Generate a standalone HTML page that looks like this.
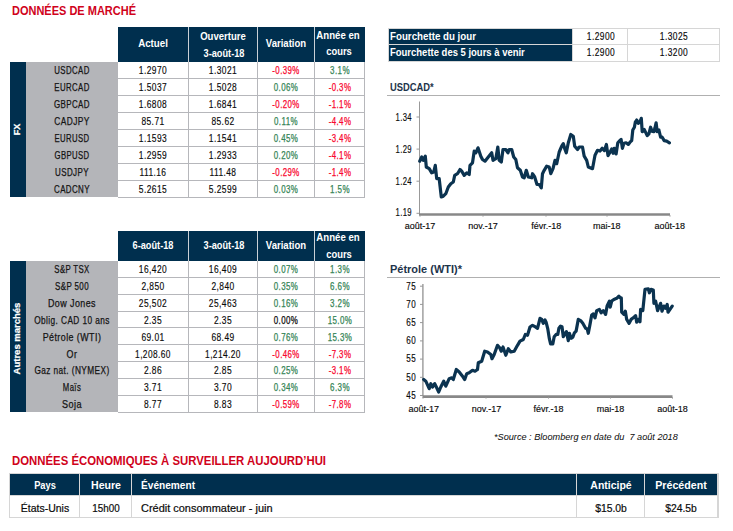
<!DOCTYPE html>
<html><head><meta charset="utf-8"><style>
html,body{margin:0;padding:0;background:#fff;}
body{width:733px;height:531px;position:relative;overflow:hidden;font-family:"Liberation Sans", sans-serif;}
</style></head><body>
<div style="position:absolute;left:12.00px;top:4.62px;width:400px;text-align:left;font-size:12.5px;line-height:12.5px;font-weight:bold;color:#d0021b;white-space:nowrap;transform:scaleX(0.8795);transform-origin:left center;">DONNÉES DE MARCHÉ</div>
<div style="position:absolute;left:12.00px;top:455.04px;width:400px;text-align:left;font-size:12px;line-height:12px;font-weight:bold;color:#d0021b;white-space:nowrap;transform:scaleX(0.9476);transform-origin:left center;">DONNÉES ÉCONOMIQUES À SURVEILLER AUJOURD’HUI</div>
<div style="position:absolute;left:118px;top:27px;width:247px;height:34.5px;background:#002f4e;"></div>
<div style="position:absolute;left:188px;top:27px;width:1px;height:34.5px;background:#c9d0d6;"></div>
<div style="position:absolute;left:257px;top:27px;width:1px;height:34.5px;background:#c9d0d6;"></div>
<div style="position:absolute;left:314px;top:27px;width:1px;height:34.5px;background:#c9d0d6;"></div>
<div style="position:absolute;left:10px;top:61.5px;width:16px;height:135.68px;background:#002f4e;"></div>
<div style="position:absolute;left:26px;top:61.5px;width:92px;height:135.68px;background:#b4b5b9;"></div>
<div style="position:absolute;left:118px;top:77.96px;width:247px;height:1px;background:#b6b7bb;"></div>
<div style="position:absolute;left:118px;top:94.92px;width:247px;height:1px;background:#b6b7bb;"></div>
<div style="position:absolute;left:118px;top:111.88px;width:247px;height:1px;background:#b6b7bb;"></div>
<div style="position:absolute;left:118px;top:128.84px;width:247px;height:1px;background:#b6b7bb;"></div>
<div style="position:absolute;left:118px;top:145.8px;width:247px;height:1px;background:#b6b7bb;"></div>
<div style="position:absolute;left:118px;top:162.76px;width:247px;height:1px;background:#b6b7bb;"></div>
<div style="position:absolute;left:118px;top:179.72px;width:247px;height:1px;background:#b6b7bb;"></div>
<div style="position:absolute;left:118px;top:196.68px;width:247px;height:1px;background:#b6b7bb;"></div>
<div style="position:absolute;left:188px;top:61.5px;width:1px;height:136.18px;background:#b6b7bb;"></div>
<div style="position:absolute;left:257px;top:61.5px;width:1px;height:136.18px;background:#b6b7bb;"></div>
<div style="position:absolute;left:314px;top:61.5px;width:1px;height:136.18px;background:#b6b7bb;"></div>
<div style="position:absolute;left:364px;top:61.5px;width:1px;height:136.18px;background:#b6b7bb;"></div>
<div style="position:absolute;left:-127.80px;top:66.31px;width:400px;text-align:center;font-size:10px;line-height:10px;font-weight:normal;color:#141414;white-space:nowrap;letter-spacing:0.5px;-webkit-text-stroke:0.25px #141414;transform:scaleX(0.7825);transform-origin:center center;">USDCAD</div>
<div style="position:absolute;left:-46.79px;top:66.31px;width:400px;text-align:center;font-size:10px;line-height:10px;font-weight:normal;color:#0a0a0a;white-space:nowrap;letter-spacing:0.5px;-webkit-text-stroke:0.15px #0a0a0a;transform:scaleX(0.8412);transform-origin:center center;">1.2970</div>
<div style="position:absolute;left:22.71px;top:66.31px;width:400px;text-align:center;font-size:10px;line-height:10px;font-weight:normal;color:#0a0a0a;white-space:nowrap;letter-spacing:0.5px;-webkit-text-stroke:0.15px #0a0a0a;transform:scaleX(0.8412);transform-origin:center center;">1.3021</div>
<div style="position:absolute;left:85.70px;top:66.31px;width:400px;text-align:center;font-size:10px;line-height:10px;font-weight:normal;color:#f8062e;white-space:nowrap;letter-spacing:0.5px;-webkit-text-stroke:0.25px #f8062e;transform:scaleX(0.7878);transform-origin:center center;">-0.39%</div>
<div style="position:absolute;left:139.70px;top:66.31px;width:400px;text-align:center;font-size:10px;line-height:10px;font-weight:normal;color:#358556;white-space:nowrap;letter-spacing:0.5px;-webkit-text-stroke:0.25px #358556;transform:scaleX(0.7975);transform-origin:center center;">3.1%</div>
<div style="position:absolute;left:-127.80px;top:83.28px;width:400px;text-align:center;font-size:10px;line-height:10px;font-weight:normal;color:#141414;white-space:nowrap;letter-spacing:0.5px;-webkit-text-stroke:0.25px #141414;transform:scaleX(0.7825);transform-origin:center center;">EURCAD</div>
<div style="position:absolute;left:-46.79px;top:83.28px;width:400px;text-align:center;font-size:10px;line-height:10px;font-weight:normal;color:#0a0a0a;white-space:nowrap;letter-spacing:0.5px;-webkit-text-stroke:0.15px #0a0a0a;transform:scaleX(0.8412);transform-origin:center center;">1.5037</div>
<div style="position:absolute;left:22.71px;top:83.28px;width:400px;text-align:center;font-size:10px;line-height:10px;font-weight:normal;color:#0a0a0a;white-space:nowrap;letter-spacing:0.5px;-webkit-text-stroke:0.15px #0a0a0a;transform:scaleX(0.8412);transform-origin:center center;">1.5028</div>
<div style="position:absolute;left:85.70px;top:83.28px;width:400px;text-align:center;font-size:10px;line-height:10px;font-weight:normal;color:#358556;white-space:nowrap;letter-spacing:0.5px;-webkit-text-stroke:0.25px #358556;transform:scaleX(0.7940);transform-origin:center center;">0.06%</div>
<div style="position:absolute;left:139.70px;top:83.28px;width:400px;text-align:center;font-size:10px;line-height:10px;font-weight:normal;color:#f8062e;white-space:nowrap;letter-spacing:0.5px;-webkit-text-stroke:0.25px #f8062e;transform:scaleX(0.7895);transform-origin:center center;">-0.3%</div>
<div style="position:absolute;left:-127.80px;top:100.23px;width:400px;text-align:center;font-size:10px;line-height:10px;font-weight:normal;color:#141414;white-space:nowrap;letter-spacing:0.5px;-webkit-text-stroke:0.25px #141414;transform:scaleX(0.7937);transform-origin:center center;">GBPCAD</div>
<div style="position:absolute;left:-46.79px;top:100.23px;width:400px;text-align:center;font-size:10px;line-height:10px;font-weight:normal;color:#0a0a0a;white-space:nowrap;letter-spacing:0.5px;-webkit-text-stroke:0.15px #0a0a0a;transform:scaleX(0.8412);transform-origin:center center;">1.6808</div>
<div style="position:absolute;left:22.71px;top:100.23px;width:400px;text-align:center;font-size:10px;line-height:10px;font-weight:normal;color:#0a0a0a;white-space:nowrap;letter-spacing:0.5px;-webkit-text-stroke:0.15px #0a0a0a;transform:scaleX(0.8412);transform-origin:center center;">1.6841</div>
<div style="position:absolute;left:85.70px;top:100.23px;width:400px;text-align:center;font-size:10px;line-height:10px;font-weight:normal;color:#f8062e;white-space:nowrap;letter-spacing:0.5px;-webkit-text-stroke:0.25px #f8062e;transform:scaleX(0.7878);transform-origin:center center;">-0.20%</div>
<div style="position:absolute;left:139.70px;top:100.23px;width:400px;text-align:center;font-size:10px;line-height:10px;font-weight:normal;color:#f8062e;white-space:nowrap;letter-spacing:0.5px;-webkit-text-stroke:0.25px #f8062e;transform:scaleX(0.7895);transform-origin:center center;">-1.1%</div>
<div style="position:absolute;left:-127.79px;top:117.19px;width:400px;text-align:center;font-size:10px;line-height:10px;font-weight:normal;color:#141414;white-space:nowrap;letter-spacing:0.5px;-webkit-text-stroke:0.25px #141414;transform:scaleX(0.8343);transform-origin:center center;">CADJPY</div>
<div style="position:absolute;left:-46.79px;top:117.19px;width:400px;text-align:center;font-size:10px;line-height:10px;font-weight:normal;color:#0a0a0a;white-space:nowrap;letter-spacing:0.5px;-webkit-text-stroke:0.15px #0a0a0a;transform:scaleX(0.8426);transform-origin:center center;">85.71</div>
<div style="position:absolute;left:22.71px;top:117.19px;width:400px;text-align:center;font-size:10px;line-height:10px;font-weight:normal;color:#0a0a0a;white-space:nowrap;letter-spacing:0.5px;-webkit-text-stroke:0.15px #0a0a0a;transform:scaleX(0.8426);transform-origin:center center;">85.62</div>
<div style="position:absolute;left:85.70px;top:117.19px;width:400px;text-align:center;font-size:10px;line-height:10px;font-weight:normal;color:#358556;white-space:nowrap;letter-spacing:0.5px;-webkit-text-stroke:0.25px #358556;transform:scaleX(0.7926);transform-origin:center center;">0.11%</div>
<div style="position:absolute;left:139.70px;top:117.19px;width:400px;text-align:center;font-size:10px;line-height:10px;font-weight:normal;color:#f8062e;white-space:nowrap;letter-spacing:0.5px;-webkit-text-stroke:0.25px #f8062e;transform:scaleX(0.7895);transform-origin:center center;">-4.4%</div>
<div style="position:absolute;left:-127.81px;top:134.16px;width:400px;text-align:center;font-size:10px;line-height:10px;font-weight:normal;color:#141414;white-space:nowrap;letter-spacing:0.5px;-webkit-text-stroke:0.25px #141414;transform:scaleX(0.7713);transform-origin:center center;">EURUSD</div>
<div style="position:absolute;left:-46.79px;top:134.16px;width:400px;text-align:center;font-size:10px;line-height:10px;font-weight:normal;color:#0a0a0a;white-space:nowrap;letter-spacing:0.5px;-webkit-text-stroke:0.15px #0a0a0a;transform:scaleX(0.8412);transform-origin:center center;">1.1593</div>
<div style="position:absolute;left:22.71px;top:134.16px;width:400px;text-align:center;font-size:10px;line-height:10px;font-weight:normal;color:#0a0a0a;white-space:nowrap;letter-spacing:0.5px;-webkit-text-stroke:0.15px #0a0a0a;transform:scaleX(0.8412);transform-origin:center center;">1.1541</div>
<div style="position:absolute;left:85.70px;top:134.16px;width:400px;text-align:center;font-size:10px;line-height:10px;font-weight:normal;color:#358556;white-space:nowrap;letter-spacing:0.5px;-webkit-text-stroke:0.25px #358556;transform:scaleX(0.7940);transform-origin:center center;">0.45%</div>
<div style="position:absolute;left:139.70px;top:134.16px;width:400px;text-align:center;font-size:10px;line-height:10px;font-weight:normal;color:#f8062e;white-space:nowrap;letter-spacing:0.5px;-webkit-text-stroke:0.25px #f8062e;transform:scaleX(0.7895);transform-origin:center center;">-3.4%</div>
<div style="position:absolute;left:-127.81px;top:151.12px;width:400px;text-align:center;font-size:10px;line-height:10px;font-weight:normal;color:#141414;white-space:nowrap;letter-spacing:0.5px;-webkit-text-stroke:0.25px #141414;transform:scaleX(0.7713);transform-origin:center center;">GBPUSD</div>
<div style="position:absolute;left:-46.79px;top:151.12px;width:400px;text-align:center;font-size:10px;line-height:10px;font-weight:normal;color:#0a0a0a;white-space:nowrap;letter-spacing:0.5px;-webkit-text-stroke:0.15px #0a0a0a;transform:scaleX(0.8412);transform-origin:center center;">1.2959</div>
<div style="position:absolute;left:22.71px;top:151.12px;width:400px;text-align:center;font-size:10px;line-height:10px;font-weight:normal;color:#0a0a0a;white-space:nowrap;letter-spacing:0.5px;-webkit-text-stroke:0.15px #0a0a0a;transform:scaleX(0.8412);transform-origin:center center;">1.2933</div>
<div style="position:absolute;left:85.70px;top:151.12px;width:400px;text-align:center;font-size:10px;line-height:10px;font-weight:normal;color:#358556;white-space:nowrap;letter-spacing:0.5px;-webkit-text-stroke:0.25px #358556;transform:scaleX(0.7940);transform-origin:center center;">0.20%</div>
<div style="position:absolute;left:139.70px;top:151.12px;width:400px;text-align:center;font-size:10px;line-height:10px;font-weight:normal;color:#f8062e;white-space:nowrap;letter-spacing:0.5px;-webkit-text-stroke:0.25px #f8062e;transform:scaleX(0.7895);transform-origin:center center;">-4.1%</div>
<div style="position:absolute;left:-127.80px;top:168.07px;width:400px;text-align:center;font-size:10px;line-height:10px;font-weight:normal;color:#141414;white-space:nowrap;letter-spacing:0.5px;-webkit-text-stroke:0.25px #141414;transform:scaleX(0.7986);transform-origin:center center;">USDJPY</div>
<div style="position:absolute;left:-46.79px;top:168.07px;width:400px;text-align:center;font-size:10px;line-height:10px;font-weight:normal;color:#0a0a0a;white-space:nowrap;letter-spacing:0.5px;-webkit-text-stroke:0.15px #0a0a0a;transform:scaleX(0.8380);transform-origin:center center;">111.16</div>
<div style="position:absolute;left:22.71px;top:168.07px;width:400px;text-align:center;font-size:10px;line-height:10px;font-weight:normal;color:#0a0a0a;white-space:nowrap;letter-spacing:0.5px;-webkit-text-stroke:0.15px #0a0a0a;transform:scaleX(0.8380);transform-origin:center center;">111.48</div>
<div style="position:absolute;left:85.70px;top:168.07px;width:400px;text-align:center;font-size:10px;line-height:10px;font-weight:normal;color:#f8062e;white-space:nowrap;letter-spacing:0.5px;-webkit-text-stroke:0.25px #f8062e;transform:scaleX(0.7878);transform-origin:center center;">-0.29%</div>
<div style="position:absolute;left:139.70px;top:168.07px;width:400px;text-align:center;font-size:10px;line-height:10px;font-weight:normal;color:#f8062e;white-space:nowrap;letter-spacing:0.5px;-webkit-text-stroke:0.25px #f8062e;transform:scaleX(0.7895);transform-origin:center center;">-1.4%</div>
<div style="position:absolute;left:-127.80px;top:185.03px;width:400px;text-align:center;font-size:10px;line-height:10px;font-weight:normal;color:#141414;white-space:nowrap;letter-spacing:0.5px;-webkit-text-stroke:0.25px #141414;transform:scaleX(0.7937);transform-origin:center center;">CADCNY</div>
<div style="position:absolute;left:-46.79px;top:185.03px;width:400px;text-align:center;font-size:10px;line-height:10px;font-weight:normal;color:#0a0a0a;white-space:nowrap;letter-spacing:0.5px;-webkit-text-stroke:0.15px #0a0a0a;transform:scaleX(0.8412);transform-origin:center center;">5.2615</div>
<div style="position:absolute;left:22.71px;top:185.03px;width:400px;text-align:center;font-size:10px;line-height:10px;font-weight:normal;color:#0a0a0a;white-space:nowrap;letter-spacing:0.5px;-webkit-text-stroke:0.15px #0a0a0a;transform:scaleX(0.8412);transform-origin:center center;">5.2599</div>
<div style="position:absolute;left:85.70px;top:185.03px;width:400px;text-align:center;font-size:10px;line-height:10px;font-weight:normal;color:#358556;white-space:nowrap;letter-spacing:0.5px;-webkit-text-stroke:0.25px #358556;transform:scaleX(0.7940);transform-origin:center center;">0.03%</div>
<div style="position:absolute;left:139.70px;top:185.03px;width:400px;text-align:center;font-size:10px;line-height:10px;font-weight:normal;color:#358556;white-space:nowrap;letter-spacing:0.5px;-webkit-text-stroke:0.25px #358556;transform:scaleX(0.7975);transform-origin:center center;">1.5%</div>
<div style="position:absolute;left:-82.7px;top:124.1px;width:200px;height:11px;line-height:11px;text-align:center;font-size:10px;font-weight:bold;color:#fff;-webkit-text-stroke:0.25px #fff;transform:rotate(-90deg) scaleX(0.900) scaleY(0.93);white-space:nowrap">FX</div>
<div style="position:absolute;left:-47.00px;top:39.03px;width:400px;text-align:center;font-size:10px;line-height:10px;font-weight:bold;color:#fff;white-space:nowrap;transform:scaleX(0.9719);transform-origin:center center;">Actuel</div>
<div style="position:absolute;left:22.80px;top:32.14px;width:400px;text-align:center;font-size:10px;line-height:10px;font-weight:bold;color:#fff;white-space:nowrap;transform:scaleX(0.9542);transform-origin:center center;">Ouverture</div>
<div style="position:absolute;left:23.50px;top:49.14px;width:400px;text-align:center;font-size:10px;line-height:10px;font-weight:bold;color:#fff;white-space:nowrap;transform:scaleX(0.9201);transform-origin:center center;">3-août-18</div>
<div style="position:absolute;left:85.80px;top:39.14px;width:400px;text-align:center;font-size:10px;line-height:10px;font-weight:bold;color:#fff;white-space:nowrap;transform:scaleX(0.9541);transform-origin:center center;">Variation</div>
<div style="position:absolute;left:138.40px;top:30.93px;width:400px;text-align:center;font-size:10px;line-height:10px;font-weight:bold;color:#fff;white-space:nowrap;transform:scaleX(0.9620);transform-origin:center center;">Année en</div>
<div style="position:absolute;left:138.90px;top:47.33px;width:400px;text-align:center;font-size:10px;line-height:10px;font-weight:bold;color:#fff;white-space:nowrap;transform:scaleX(0.9401);transform-origin:center center;">cours</div>
<div style="position:absolute;left:118px;top:231px;width:247px;height:29.5px;background:#002f4e;"></div>
<div style="position:absolute;left:188px;top:231px;width:1px;height:29.5px;background:#c9d0d6;"></div>
<div style="position:absolute;left:257px;top:231px;width:1px;height:29.5px;background:#c9d0d6;"></div>
<div style="position:absolute;left:314px;top:231px;width:1px;height:29.5px;background:#c9d0d6;"></div>
<div style="position:absolute;left:10px;top:260.5px;width:16px;height:151.74px;background:#002f4e;"></div>
<div style="position:absolute;left:26px;top:260.5px;width:92px;height:151.74px;background:#b4b5b9;"></div>
<div style="position:absolute;left:118px;top:276.86px;width:247px;height:1px;background:#b6b7bb;"></div>
<div style="position:absolute;left:118px;top:293.72px;width:247px;height:1px;background:#b6b7bb;"></div>
<div style="position:absolute;left:118px;top:310.58px;width:247px;height:1px;background:#b6b7bb;"></div>
<div style="position:absolute;left:118px;top:327.44px;width:247px;height:1px;background:#b6b7bb;"></div>
<div style="position:absolute;left:118px;top:344.3px;width:247px;height:1px;background:#b6b7bb;"></div>
<div style="position:absolute;left:118px;top:361.16px;width:247px;height:1px;background:#b6b7bb;"></div>
<div style="position:absolute;left:118px;top:378.02px;width:247px;height:1px;background:#b6b7bb;"></div>
<div style="position:absolute;left:118px;top:394.88px;width:247px;height:1px;background:#b6b7bb;"></div>
<div style="position:absolute;left:118px;top:411.74px;width:247px;height:1px;background:#b6b7bb;"></div>
<div style="position:absolute;left:188px;top:260.5px;width:1px;height:152.24px;background:#b6b7bb;"></div>
<div style="position:absolute;left:257px;top:260.5px;width:1px;height:152.24px;background:#b6b7bb;"></div>
<div style="position:absolute;left:314px;top:260.5px;width:1px;height:152.24px;background:#b6b7bb;"></div>
<div style="position:absolute;left:364px;top:260.5px;width:1px;height:152.24px;background:#b6b7bb;"></div>
<div style="position:absolute;left:-127.81px;top:265.27px;width:400px;text-align:center;font-size:10px;line-height:10px;font-weight:normal;color:#141414;white-space:nowrap;letter-spacing:0.5px;-webkit-text-stroke:0.25px #141414;transform:scaleX(0.7799);transform-origin:center center;">S&amp;P TSX</div>
<div style="position:absolute;left:-46.79px;top:265.27px;width:400px;text-align:center;font-size:10px;line-height:10px;font-weight:normal;color:#0a0a0a;white-space:nowrap;letter-spacing:0.5px;-webkit-text-stroke:0.15px #0a0a0a;transform:scaleX(0.8412);transform-origin:center center;">16,420</div>
<div style="position:absolute;left:22.71px;top:265.27px;width:400px;text-align:center;font-size:10px;line-height:10px;font-weight:normal;color:#0a0a0a;white-space:nowrap;letter-spacing:0.5px;-webkit-text-stroke:0.15px #0a0a0a;transform:scaleX(0.8412);transform-origin:center center;">16,409</div>
<div style="position:absolute;left:85.70px;top:265.27px;width:400px;text-align:center;font-size:10px;line-height:10px;font-weight:normal;color:#358556;white-space:nowrap;letter-spacing:0.5px;-webkit-text-stroke:0.25px #358556;transform:scaleX(0.7940);transform-origin:center center;">0.07%</div>
<div style="position:absolute;left:139.70px;top:265.27px;width:400px;text-align:center;font-size:10px;line-height:10px;font-weight:normal;color:#358556;white-space:nowrap;letter-spacing:0.5px;-webkit-text-stroke:0.25px #358556;transform:scaleX(0.7975);transform-origin:center center;">1.3%</div>
<div style="position:absolute;left:-127.80px;top:282.13px;width:400px;text-align:center;font-size:10px;line-height:10px;font-weight:normal;color:#141414;white-space:nowrap;letter-spacing:0.5px;-webkit-text-stroke:0.25px #141414;transform:scaleX(0.7945);transform-origin:center center;">S&amp;P 500</div>
<div style="position:absolute;left:-46.79px;top:282.13px;width:400px;text-align:center;font-size:10px;line-height:10px;font-weight:normal;color:#0a0a0a;white-space:nowrap;letter-spacing:0.5px;-webkit-text-stroke:0.15px #0a0a0a;transform:scaleX(0.8426);transform-origin:center center;">2,850</div>
<div style="position:absolute;left:22.71px;top:282.13px;width:400px;text-align:center;font-size:10px;line-height:10px;font-weight:normal;color:#0a0a0a;white-space:nowrap;letter-spacing:0.5px;-webkit-text-stroke:0.15px #0a0a0a;transform:scaleX(0.8426);transform-origin:center center;">2,840</div>
<div style="position:absolute;left:85.70px;top:282.13px;width:400px;text-align:center;font-size:10px;line-height:10px;font-weight:normal;color:#358556;white-space:nowrap;letter-spacing:0.5px;-webkit-text-stroke:0.25px #358556;transform:scaleX(0.7940);transform-origin:center center;">0.35%</div>
<div style="position:absolute;left:139.70px;top:282.13px;width:400px;text-align:center;font-size:10px;line-height:10px;font-weight:normal;color:#358556;white-space:nowrap;letter-spacing:0.5px;-webkit-text-stroke:0.25px #358556;transform:scaleX(0.7975);transform-origin:center center;">6.6%</div>
<div style="position:absolute;left:-127.78px;top:298.99px;width:400px;text-align:center;font-size:10px;line-height:10px;font-weight:normal;color:#141414;white-space:nowrap;letter-spacing:0.5px;-webkit-text-stroke:0.25px #141414;transform:scaleX(0.8902);transform-origin:center center;">Dow Jones</div>
<div style="position:absolute;left:-46.79px;top:298.99px;width:400px;text-align:center;font-size:10px;line-height:10px;font-weight:normal;color:#0a0a0a;white-space:nowrap;letter-spacing:0.5px;-webkit-text-stroke:0.15px #0a0a0a;transform:scaleX(0.8412);transform-origin:center center;">25,502</div>
<div style="position:absolute;left:22.71px;top:298.99px;width:400px;text-align:center;font-size:10px;line-height:10px;font-weight:normal;color:#0a0a0a;white-space:nowrap;letter-spacing:0.5px;-webkit-text-stroke:0.15px #0a0a0a;transform:scaleX(0.8412);transform-origin:center center;">25,463</div>
<div style="position:absolute;left:85.70px;top:298.99px;width:400px;text-align:center;font-size:10px;line-height:10px;font-weight:normal;color:#358556;white-space:nowrap;letter-spacing:0.5px;-webkit-text-stroke:0.25px #358556;transform:scaleX(0.7940);transform-origin:center center;">0.16%</div>
<div style="position:absolute;left:139.70px;top:298.99px;width:400px;text-align:center;font-size:10px;line-height:10px;font-weight:normal;color:#358556;white-space:nowrap;letter-spacing:0.5px;-webkit-text-stroke:0.25px #358556;transform:scaleX(0.7975);transform-origin:center center;">3.2%</div>
<div style="position:absolute;left:-127.79px;top:315.85px;width:400px;text-align:center;font-size:10px;line-height:10px;font-weight:normal;color:#141414;white-space:nowrap;letter-spacing:0.5px;-webkit-text-stroke:0.25px #141414;transform:scaleX(0.8280);transform-origin:center center;">Oblig. CAD 10 ans</div>
<div style="position:absolute;left:-46.79px;top:315.85px;width:400px;text-align:center;font-size:10px;line-height:10px;font-weight:normal;color:#0a0a0a;white-space:nowrap;letter-spacing:0.5px;-webkit-text-stroke:0.15px #0a0a0a;transform:scaleX(0.8449);transform-origin:center center;">2.35</div>
<div style="position:absolute;left:22.71px;top:315.85px;width:400px;text-align:center;font-size:10px;line-height:10px;font-weight:normal;color:#0a0a0a;white-space:nowrap;letter-spacing:0.5px;-webkit-text-stroke:0.15px #0a0a0a;transform:scaleX(0.8449);transform-origin:center center;">2.35</div>
<div style="position:absolute;left:85.70px;top:315.85px;width:400px;text-align:center;font-size:10px;line-height:10px;font-weight:normal;color:#0a0a0a;white-space:nowrap;letter-spacing:0.5px;-webkit-text-stroke:0.25px #0a0a0a;transform:scaleX(0.7940);transform-origin:center center;">0.00%</div>
<div style="position:absolute;left:139.70px;top:315.85px;width:400px;text-align:center;font-size:10px;line-height:10px;font-weight:normal;color:#358556;white-space:nowrap;letter-spacing:0.5px;-webkit-text-stroke:0.25px #358556;transform:scaleX(0.7940);transform-origin:center center;">15.0%</div>
<div style="position:absolute;left:-127.78px;top:332.71px;width:400px;text-align:center;font-size:10px;line-height:10px;font-weight:normal;color:#141414;white-space:nowrap;letter-spacing:0.5px;-webkit-text-stroke:0.25px #141414;transform:scaleX(0.8892);transform-origin:center center;">Pétrole (WTI)</div>
<div style="position:absolute;left:-46.79px;top:332.71px;width:400px;text-align:center;font-size:10px;line-height:10px;font-weight:normal;color:#0a0a0a;white-space:nowrap;letter-spacing:0.5px;-webkit-text-stroke:0.15px #0a0a0a;transform:scaleX(0.8426);transform-origin:center center;">69.01</div>
<div style="position:absolute;left:22.71px;top:332.71px;width:400px;text-align:center;font-size:10px;line-height:10px;font-weight:normal;color:#0a0a0a;white-space:nowrap;letter-spacing:0.5px;-webkit-text-stroke:0.15px #0a0a0a;transform:scaleX(0.8426);transform-origin:center center;">68.49</div>
<div style="position:absolute;left:85.70px;top:332.71px;width:400px;text-align:center;font-size:10px;line-height:10px;font-weight:normal;color:#358556;white-space:nowrap;letter-spacing:0.5px;-webkit-text-stroke:0.25px #358556;transform:scaleX(0.7940);transform-origin:center center;">0.76%</div>
<div style="position:absolute;left:139.70px;top:332.71px;width:400px;text-align:center;font-size:10px;line-height:10px;font-weight:normal;color:#358556;white-space:nowrap;letter-spacing:0.5px;-webkit-text-stroke:0.25px #358556;transform:scaleX(0.7940);transform-origin:center center;">15.3%</div>
<div style="position:absolute;left:-127.78px;top:349.57px;width:400px;text-align:center;font-size:10px;line-height:10px;font-weight:normal;color:#141414;white-space:nowrap;letter-spacing:0.5px;-webkit-text-stroke:0.25px #141414;transform:scaleX(0.8872);transform-origin:center center;">Or</div>
<div style="position:absolute;left:-46.79px;top:349.57px;width:400px;text-align:center;font-size:10px;line-height:10px;font-weight:normal;color:#0a0a0a;white-space:nowrap;letter-spacing:0.5px;-webkit-text-stroke:0.15px #0a0a0a;transform:scaleX(0.8349);transform-origin:center center;">1,208.60</div>
<div style="position:absolute;left:22.71px;top:349.57px;width:400px;text-align:center;font-size:10px;line-height:10px;font-weight:normal;color:#0a0a0a;white-space:nowrap;letter-spacing:0.5px;-webkit-text-stroke:0.15px #0a0a0a;transform:scaleX(0.8349);transform-origin:center center;">1,214.20</div>
<div style="position:absolute;left:85.70px;top:349.57px;width:400px;text-align:center;font-size:10px;line-height:10px;font-weight:normal;color:#f8062e;white-space:nowrap;letter-spacing:0.5px;-webkit-text-stroke:0.25px #f8062e;transform:scaleX(0.7878);transform-origin:center center;">-0.46%</div>
<div style="position:absolute;left:139.70px;top:349.57px;width:400px;text-align:center;font-size:10px;line-height:10px;font-weight:normal;color:#f8062e;white-space:nowrap;letter-spacing:0.5px;-webkit-text-stroke:0.25px #f8062e;transform:scaleX(0.7895);transform-origin:center center;">-7.3%</div>
<div style="position:absolute;left:-127.79px;top:366.43px;width:400px;text-align:center;font-size:10px;line-height:10px;font-weight:normal;color:#141414;white-space:nowrap;letter-spacing:0.5px;-webkit-text-stroke:0.25px #141414;transform:scaleX(0.8272);transform-origin:center center;">Gaz nat. (NYMEX)</div>
<div style="position:absolute;left:-46.79px;top:366.43px;width:400px;text-align:center;font-size:10px;line-height:10px;font-weight:normal;color:#0a0a0a;white-space:nowrap;letter-spacing:0.5px;-webkit-text-stroke:0.15px #0a0a0a;transform:scaleX(0.8449);transform-origin:center center;">2.86</div>
<div style="position:absolute;left:22.71px;top:366.43px;width:400px;text-align:center;font-size:10px;line-height:10px;font-weight:normal;color:#0a0a0a;white-space:nowrap;letter-spacing:0.5px;-webkit-text-stroke:0.15px #0a0a0a;transform:scaleX(0.8449);transform-origin:center center;">2.85</div>
<div style="position:absolute;left:85.70px;top:366.43px;width:400px;text-align:center;font-size:10px;line-height:10px;font-weight:normal;color:#358556;white-space:nowrap;letter-spacing:0.5px;-webkit-text-stroke:0.25px #358556;transform:scaleX(0.7940);transform-origin:center center;">0.25%</div>
<div style="position:absolute;left:139.70px;top:366.43px;width:400px;text-align:center;font-size:10px;line-height:10px;font-weight:normal;color:#f8062e;white-space:nowrap;letter-spacing:0.5px;-webkit-text-stroke:0.25px #f8062e;transform:scaleX(0.7895);transform-origin:center center;">-3.1%</div>
<div style="position:absolute;left:-127.81px;top:383.29px;width:400px;text-align:center;font-size:10px;line-height:10px;font-weight:normal;color:#141414;white-space:nowrap;letter-spacing:0.5px;-webkit-text-stroke:0.25px #141414;transform:scaleX(0.7726);transform-origin:center center;">Maïs</div>
<div style="position:absolute;left:-46.79px;top:383.29px;width:400px;text-align:center;font-size:10px;line-height:10px;font-weight:normal;color:#0a0a0a;white-space:nowrap;letter-spacing:0.5px;-webkit-text-stroke:0.15px #0a0a0a;transform:scaleX(0.8449);transform-origin:center center;">3.71</div>
<div style="position:absolute;left:22.71px;top:383.29px;width:400px;text-align:center;font-size:10px;line-height:10px;font-weight:normal;color:#0a0a0a;white-space:nowrap;letter-spacing:0.5px;-webkit-text-stroke:0.15px #0a0a0a;transform:scaleX(0.8449);transform-origin:center center;">3.70</div>
<div style="position:absolute;left:85.70px;top:383.29px;width:400px;text-align:center;font-size:10px;line-height:10px;font-weight:normal;color:#358556;white-space:nowrap;letter-spacing:0.5px;-webkit-text-stroke:0.25px #358556;transform:scaleX(0.7940);transform-origin:center center;">0.34%</div>
<div style="position:absolute;left:139.70px;top:383.29px;width:400px;text-align:center;font-size:10px;line-height:10px;font-weight:normal;color:#358556;white-space:nowrap;letter-spacing:0.5px;-webkit-text-stroke:0.25px #358556;transform:scaleX(0.7975);transform-origin:center center;">6.3%</div>
<div style="position:absolute;left:-127.77px;top:400.15px;width:400px;text-align:center;font-size:10px;line-height:10px;font-weight:normal;color:#141414;white-space:nowrap;letter-spacing:0.5px;-webkit-text-stroke:0.25px #141414;transform:scaleX(0.9061);transform-origin:center center;">Soja</div>
<div style="position:absolute;left:-46.79px;top:400.15px;width:400px;text-align:center;font-size:10px;line-height:10px;font-weight:normal;color:#0a0a0a;white-space:nowrap;letter-spacing:0.5px;-webkit-text-stroke:0.15px #0a0a0a;transform:scaleX(0.8449);transform-origin:center center;">8.77</div>
<div style="position:absolute;left:22.71px;top:400.15px;width:400px;text-align:center;font-size:10px;line-height:10px;font-weight:normal;color:#0a0a0a;white-space:nowrap;letter-spacing:0.5px;-webkit-text-stroke:0.15px #0a0a0a;transform:scaleX(0.8449);transform-origin:center center;">8.83</div>
<div style="position:absolute;left:85.70px;top:400.15px;width:400px;text-align:center;font-size:10px;line-height:10px;font-weight:normal;color:#f8062e;white-space:nowrap;letter-spacing:0.5px;-webkit-text-stroke:0.25px #f8062e;transform:scaleX(0.7878);transform-origin:center center;">-0.59%</div>
<div style="position:absolute;left:139.70px;top:400.15px;width:400px;text-align:center;font-size:10px;line-height:10px;font-weight:normal;color:#f8062e;white-space:nowrap;letter-spacing:0.5px;-webkit-text-stroke:0.25px #f8062e;transform:scaleX(0.7895);transform-origin:center center;">-7.8%</div>
<div style="position:absolute;left:-82.7px;top:333.4px;width:200px;height:11px;line-height:11px;text-align:center;font-size:10px;font-weight:bold;color:#fff;-webkit-text-stroke:0.25px #fff;transform:rotate(-90deg) scaleX(0.950) scaleY(0.93);white-space:nowrap">Autres marchés</div>
<div style="position:absolute;left:-47.00px;top:241.34px;width:400px;text-align:center;font-size:10px;line-height:10px;font-weight:bold;color:#fff;white-space:nowrap;transform:scaleX(0.9201);transform-origin:center center;">6-août-18</div>
<div style="position:absolute;left:23.50px;top:241.34px;width:400px;text-align:center;font-size:10px;line-height:10px;font-weight:bold;color:#fff;white-space:nowrap;transform:scaleX(0.9201);transform-origin:center center;">3-août-18</div>
<div style="position:absolute;left:85.80px;top:241.34px;width:400px;text-align:center;font-size:10px;line-height:10px;font-weight:bold;color:#fff;white-space:nowrap;transform:scaleX(0.9541);transform-origin:center center;">Variation</div>
<div style="position:absolute;left:138.40px;top:233.23px;width:400px;text-align:center;font-size:10px;line-height:10px;font-weight:bold;color:#fff;white-space:nowrap;transform:scaleX(0.9620);transform-origin:center center;">Année en</div>
<div style="position:absolute;left:138.90px;top:249.53px;width:400px;text-align:center;font-size:10px;line-height:10px;font-weight:bold;color:#fff;white-space:nowrap;transform:scaleX(0.9401);transform-origin:center center;">cours</div>
<div style="position:absolute;left:387.5px;top:27.5px;width:332px;height:34px;background:#d6d6d6;"></div>
<div style="position:absolute;left:388.5px;top:28.5px;width:183.5px;height:15.5px;background:#002f4e;"></div>
<div style="position:absolute;left:388.5px;top:45px;width:183.5px;height:15.5px;background:#002f4e;"></div>
<div style="position:absolute;left:573px;top:28.5px;width:54px;height:15.5px;background:#fff;"></div>
<div style="position:absolute;left:573px;top:45px;width:54px;height:15.5px;background:#fff;"></div>
<div style="position:absolute;left:628px;top:28.5px;width:91px;height:15.5px;background:#fff;"></div>
<div style="position:absolute;left:628px;top:45px;width:91px;height:15.5px;background:#fff;"></div>
<div style="position:absolute;left:389.90px;top:31.83px;width:400px;text-align:left;font-size:10px;line-height:10px;font-weight:bold;color:#fff;white-space:nowrap;transform:scaleX(0.9736);transform-origin:left center;">Fourchette du jour</div>
<div style="position:absolute;left:389.90px;top:47.83px;width:400px;text-align:left;font-size:10px;line-height:10px;font-weight:bold;color:#fff;white-space:nowrap;transform:scaleX(0.9475);transform-origin:left center;">Fourchette des 5 jours à venir</div>
<div style="position:absolute;left:400.61px;top:31.83px;width:400px;text-align:center;font-size:10px;line-height:10px;font-weight:normal;color:#0a0a0a;white-space:nowrap;letter-spacing:0.5px;-webkit-text-stroke:0.15px #0a0a0a;transform:scaleX(0.8412);transform-origin:center center;">1.2900</div>
<div style="position:absolute;left:400.61px;top:48.23px;width:400px;text-align:center;font-size:10px;line-height:10px;font-weight:normal;color:#0a0a0a;white-space:nowrap;letter-spacing:0.5px;-webkit-text-stroke:0.15px #0a0a0a;transform:scaleX(0.8412);transform-origin:center center;">1.2900</div>
<div style="position:absolute;left:474.11px;top:31.83px;width:400px;text-align:center;font-size:10px;line-height:10px;font-weight:normal;color:#0a0a0a;white-space:nowrap;letter-spacing:0.5px;-webkit-text-stroke:0.15px #0a0a0a;transform:scaleX(0.8412);transform-origin:center center;">1.3025</div>
<div style="position:absolute;left:474.11px;top:48.23px;width:400px;text-align:center;font-size:10px;line-height:10px;font-weight:normal;color:#0a0a0a;white-space:nowrap;letter-spacing:0.5px;-webkit-text-stroke:0.15px #0a0a0a;transform:scaleX(0.8412);transform-origin:center center;">1.3200</div>
<div style="position:absolute;left:390.20px;top:81.83px;width:400px;text-align:left;font-size:11.3px;line-height:11.3px;font-weight:bold;color:#1d344b;white-space:nowrap;transform:scaleX(0.8267);transform-origin:left center;">USDCAD*</div>
<div style="position:absolute;left:387px;top:95px;width:333px;height:1.2px;background:#b0b0b0;"></div>
<div style="position:absolute;left:390.20px;top:263.83px;width:400px;text-align:left;font-size:11.3px;line-height:11.3px;font-weight:bold;color:#1d344b;white-space:nowrap;transform:scaleX(0.9719);transform-origin:left center;">Pétrole (WTI)*</div>
<div style="position:absolute;left:387px;top:277px;width:333px;height:1.2px;background:#b0b0b0;"></div>
<div style="position:absolute;left:494.20px;top:432.58px;width:400px;text-align:left;font-size:9px;line-height:9px;font-weight:normal;color:#0a0a0a;white-space:nowrap;font-style:italic;transform:scaleX(1.0175);transform-origin:left center;">*Source : Bloomberg en date du&nbsp; 7 août 2018</div>
<div style="position:absolute;left:9px;top:472.5px;width:710px;height:45.8px;background:#d6d6d6;"></div>
<div style="position:absolute;left:10px;top:474px;width:69px;height:21px;background:#002f4e;"></div>
<div style="position:absolute;left:10px;top:496.3px;width:69px;height:20.5px;background:#fff;"></div>
<div style="position:absolute;left:80px;top:474px;width:51px;height:21px;background:#002f4e;"></div>
<div style="position:absolute;left:80px;top:496.3px;width:51px;height:20.5px;background:#fff;"></div>
<div style="position:absolute;left:132px;top:474px;width:444px;height:21px;background:#002f4e;"></div>
<div style="position:absolute;left:132px;top:496.3px;width:444px;height:20.5px;background:#fff;"></div>
<div style="position:absolute;left:577px;top:474px;width:66.5px;height:21px;background:#002f4e;"></div>
<div style="position:absolute;left:577px;top:496.3px;width:66.5px;height:20.5px;background:#fff;"></div>
<div style="position:absolute;left:644.5px;top:474px;width:72.5px;height:21px;background:#002f4e;"></div>
<div style="position:absolute;left:644.5px;top:496.3px;width:72.5px;height:20.5px;background:#fff;"></div>
<div style="position:absolute;left:-155.20px;top:481.14px;width:400px;text-align:center;font-size:10px;line-height:10px;font-weight:bold;color:#fff;white-space:nowrap;transform:scaleX(0.9293);transform-origin:center center;">Pays</div>
<div style="position:absolute;left:-94.40px;top:481.14px;width:400px;text-align:center;font-size:10px;line-height:10px;font-weight:bold;color:#fff;white-space:nowrap;transform:scaleX(1.0586);transform-origin:center center;">Heure</div>
<div style="position:absolute;left:141.10px;top:481.14px;width:400px;text-align:left;font-size:10px;line-height:10px;font-weight:bold;color:#fff;white-space:nowrap;transform:scaleX(1.0122);transform-origin:left center;">Événement</div>
<div style="position:absolute;left:410.50px;top:481.14px;width:400px;text-align:center;font-size:10px;line-height:10px;font-weight:bold;color:#fff;white-space:nowrap;transform:scaleX(1.0469);transform-origin:center center;">Anticipé</div>
<div style="position:absolute;left:481.40px;top:481.14px;width:400px;text-align:center;font-size:10px;line-height:10px;font-weight:bold;color:#fff;white-space:nowrap;transform:scaleX(1.0672);transform-origin:center center;">Précédent</div>
<div style="position:absolute;left:-155.20px;top:503.46px;width:400px;text-align:center;font-size:10.8px;line-height:10.8px;font-weight:normal;color:#0a0a0a;white-space:nowrap;-webkit-text-stroke:0.2px #0a0a0a;transform:scaleX(0.9697);transform-origin:center center;">États-Unis</div>
<div style="position:absolute;left:-94.30px;top:503.46px;width:400px;text-align:center;font-size:10.8px;line-height:10.8px;font-weight:normal;color:#0a0a0a;white-space:nowrap;-webkit-text-stroke:0.2px #0a0a0a;transform:scaleX(0.9123);transform-origin:center center;">15h00</div>
<div style="position:absolute;left:141.40px;top:503.46px;width:400px;text-align:left;font-size:10.8px;line-height:10.8px;font-weight:normal;color:#0a0a0a;white-space:nowrap;-webkit-text-stroke:0.2px #0a0a0a;transform:scaleX(1.0151);transform-origin:left center;">Crédit consommateur - juin</div>
<div style="position:absolute;left:410.50px;top:503.46px;width:400px;text-align:center;font-size:10.8px;line-height:10.8px;font-weight:normal;color:#0a0a0a;white-space:nowrap;-webkit-text-stroke:0.2px #0a0a0a;transform:scaleX(0.9595);transform-origin:center center;">$15.0b</div>
<div style="position:absolute;left:481.40px;top:503.46px;width:400px;text-align:center;font-size:10.8px;line-height:10.8px;font-weight:normal;color:#0a0a0a;white-space:nowrap;-webkit-text-stroke:0.2px #0a0a0a;transform:scaleX(0.9565);transform-origin:center center;">$24.5b</div>
<svg width="733" height="531" style="position:absolute;left:0;top:0">
<line x1="419.5" y1="101.5" x2="419.5" y2="214" stroke="#999999" stroke-width="1"/>
<line x1="416.5" y1="117" x2="419.5" y2="117" stroke="#999999" stroke-width="1"/>
<line x1="416.5" y1="149.1" x2="419.5" y2="149.1" stroke="#999999" stroke-width="1"/>
<line x1="416.5" y1="181.2" x2="419.5" y2="181.2" stroke="#999999" stroke-width="1"/>
<line x1="416.5" y1="213.3" x2="419.5" y2="213.3" stroke="#999999" stroke-width="1"/>
<line x1="419" y1="214.5" x2="670" y2="214.5" stroke="#888" stroke-width="2.6"/>
<line x1="420" y1="215" x2="420" y2="216.8" stroke="#999" stroke-width="0.8"/>
<line x1="483" y1="215" x2="483" y2="216.8" stroke="#999" stroke-width="0.8"/>
<line x1="546" y1="215" x2="546" y2="216.8" stroke="#999" stroke-width="0.8"/>
<line x1="607" y1="215" x2="607" y2="216.8" stroke="#999" stroke-width="0.8"/>
<line x1="670" y1="215" x2="670" y2="216.8" stroke="#999" stroke-width="0.8"/>
<polyline points="419.7,161.2 421.7,157.0 423.3,160.3 425.3,156.2 426.3,167.0 429.2,168.7 431.7,172.8 433.7,172.0 435.3,165.3 436.7,178.7 439.2,178.7 441.3,197.0 443.3,196.2 445.8,193.7 448.3,187.0 450.8,183.7 453.3,182.0 454.7,175.3 457.5,173.7 460.0,169.5 461.7,171.2 464.2,175.3 466.7,172.8 469.2,174.5 470.0,165.3 472.5,162.8 474.2,151.2 475.8,152.8 478.0,147.8 480.8,156.2 482.5,159.5 485.0,161.2 488.3,157.0 491.7,152.8 493.0,160.3 495.8,158.7 497.8,147.0 499.2,160.3 501.3,162.0 503.0,149.5 505.8,149.5 508.0,152.8 509.2,149.5 511.7,149.5 513.7,157.0 515.8,159.5 517.5,167.8 520.3,170.3 522.5,177.0 524.2,177.8 526.3,170.3 528.3,177.0 531.7,177.8 532.5,173.7 534.7,177.0 537.0,184.5 539.2,184.5 541.3,187.8 542.5,173.7 544.2,170.3 546.7,166.2 549.2,167.0 550.8,173.7 553.0,168.7 555.0,160.3 556.7,163.7 559.2,152.0 561.7,146.2 563.3,143.7 565.0,149.5 566.3,152.8 568.3,142.8 570.8,134.5 573.3,136.2 574.7,146.2 577.5,149.5 579.2,147.0 582.5,147.0 584.2,156.2 586.7,160.3 588.3,167.0 592.5,168.7 595.0,155.3 597.5,150.3 600.0,151.1 602.2,148.3 604.4,150.6 606.4,144.4 608.0,155.6 610.0,152.2 611.7,148.9 613.1,153.3 614.2,148.3 616.1,153.9 617.8,142.8 619.8,140.6 621.1,139.4 622.4,148.3 623.9,143.3 626.1,142.8 628.3,144.4 630.0,142.2 631.7,140.6 632.8,130.0 634.4,127.2 635.3,122.2 636.7,120.0 638.3,123.3 640.0,121.7 641.3,118.3 642.2,131.7 644.2,129.4 647.2,135.6 648.9,133.9 650.6,127.2 652.0,131.1 653.9,131.7 655.0,127.8 656.1,122.8 657.2,131.7 658.9,130.0 660.6,137.2 662.2,137.2 664.2,140.6 666.7,141.1 669.4,142.8" fill="none" stroke="#0b3350" stroke-width="3.2" stroke-linejoin="round" stroke-linecap="round"/>
<line x1="422.9" y1="284" x2="422.9" y2="396" stroke="#999999" stroke-width="1.4"/>
<line x1="420" y1="286.2" x2="423" y2="286.2" stroke="#999999" stroke-width="1"/>
<line x1="420" y1="304.4" x2="423" y2="304.4" stroke="#999999" stroke-width="1"/>
<line x1="420" y1="322.6" x2="423" y2="322.6" stroke="#999999" stroke-width="1"/>
<line x1="420" y1="340.9" x2="423" y2="340.9" stroke="#999999" stroke-width="1"/>
<line x1="420" y1="359.1" x2="423" y2="359.1" stroke="#999999" stroke-width="1"/>
<line x1="420" y1="377.3" x2="423" y2="377.3" stroke="#999999" stroke-width="1"/>
<line x1="420" y1="395.5" x2="423" y2="395.5" stroke="#999999" stroke-width="1"/>
<line x1="422.5" y1="396.6" x2="672.5" y2="396.6" stroke="#888" stroke-width="2.6"/>
<line x1="423" y1="397" x2="423" y2="398.8" stroke="#999" stroke-width="0.8"/>
<line x1="486" y1="397" x2="486" y2="398.8" stroke="#999" stroke-width="0.8"/>
<line x1="548.5" y1="397" x2="548.5" y2="398.8" stroke="#999" stroke-width="0.8"/>
<line x1="610.5" y1="397" x2="610.5" y2="398.8" stroke="#999" stroke-width="0.8"/>
<line x1="672.5" y1="397" x2="672.5" y2="398.8" stroke="#999" stroke-width="0.8"/>
<polyline points="423.7,379.5 425.8,381.2 429.2,388.7 430.8,383.7 432.5,387.0 434.7,383.7 436.7,387.8 438.7,392.0 440.8,387.0 443.7,381.2 445.8,386.2 449.2,378.7 451.7,377.8 453.3,379.5 456.3,369.5 459.2,372.0 462.5,376.2 464.7,379.5 466.7,373.7 469.2,372.8 472.5,370.3 475.0,371.2 477.5,369.5 478.3,362.8 481.7,361.2 484.7,351.2 487.5,352.0 490.8,354.5 492.0,358.7 494.2,354.5 497.5,345.3 499.7,347.8 501.3,351.2 503.0,347.0 505.8,355.3 508.3,348.7 510.8,352.0 514.2,351.2 517.5,345.3 520.0,341.2 523.3,339.5 525.3,334.5 527.5,335.3 530.0,327.0 532.5,325.3 535.0,326.7 537.5,328.3 540.0,318.3 541.7,319.4 543.3,323.3 545.0,320.0 546.1,322.2 547.8,328.9 549.4,338.9 550.6,343.9 552.8,343.9 554.2,336.7 556.1,334.4 557.8,334.4 558.9,328.3 560.6,326.1 562.0,326.7 563.3,336.7 564.7,334.4 566.4,331.7 568.3,340.6 569.4,333.3 571.1,338.3 572.8,337.2 574.4,332.8 576.1,331.1 578.3,319.4 580.6,320.6 582.8,323.3 585.6,328.3 587.2,328.9 588.3,333.3 590.0,324.4 591.7,315.0 593.3,313.9 595.0,317.8 596.7,310.6 599.4,309.4 601.1,312.8 603.3,310.6 605.6,314.4 607.2,305.6 609.4,301.1 610.2,307.2 611.7,301.1 613.9,299.4 616.7,298.3 618.9,296.1 620.2,297.8 621.3,297.8 621.7,312.2 623.9,314.4 625.3,311.1 626.7,319.4 629.1,323.3 631.1,319.4 633.3,317.8 635.6,315.6 636.7,322.2 638.3,319.4 640.0,321.7 640.6,309.4 642.8,310.6 645.0,289.4 648.3,288.9 649.4,292.8 651.1,289.4 653.3,290.0 653.9,303.3 655.6,301.1 657.6,310.6 660.6,303.3 662.0,311.1 663.9,306.1 665.6,308.3 667.2,304.4 668.0,312.2 670.0,309.4 672.2,306.1" fill="none" stroke="#0b3350" stroke-width="3.2" stroke-linejoin="round" stroke-linecap="round"/>
</svg>
<div style="position:absolute;left:12.09px;top:112.63px;width:400px;text-align:right;font-size:10px;line-height:10px;font-weight:normal;color:#0a0a0a;white-space:nowrap;letter-spacing:0.5px;-webkit-text-stroke:0.15px #0a0a0a;transform:scaleX(0.7706);transform-origin:right center;">1.34</div>
<div style="position:absolute;left:12.09px;top:144.73px;width:400px;text-align:right;font-size:10px;line-height:10px;font-weight:normal;color:#0a0a0a;white-space:nowrap;letter-spacing:0.5px;-webkit-text-stroke:0.15px #0a0a0a;transform:scaleX(0.7706);transform-origin:right center;">1.29</div>
<div style="position:absolute;left:12.09px;top:176.84px;width:400px;text-align:right;font-size:10px;line-height:10px;font-weight:normal;color:#0a0a0a;white-space:nowrap;letter-spacing:0.5px;-webkit-text-stroke:0.15px #0a0a0a;transform:scaleX(0.7706);transform-origin:right center;">1.24</div>
<div style="position:absolute;left:12.09px;top:208.23px;width:400px;text-align:right;font-size:10px;line-height:10px;font-weight:normal;color:#0a0a0a;white-space:nowrap;letter-spacing:0.5px;-webkit-text-stroke:0.15px #0a0a0a;transform:scaleX(0.7706);transform-origin:right center;">1.19</div>
<div style="position:absolute;left:16.00px;top:281.54px;width:400px;text-align:right;font-size:10px;line-height:10px;font-weight:normal;color:#0a0a0a;white-space:nowrap;letter-spacing:0.5px;-webkit-text-stroke:0.15px #0a0a0a;transform:scaleX(0.8039);transform-origin:right center;">75</div>
<div style="position:absolute;left:16.00px;top:299.76px;width:400px;text-align:right;font-size:10px;line-height:10px;font-weight:normal;color:#0a0a0a;white-space:nowrap;letter-spacing:0.5px;-webkit-text-stroke:0.15px #0a0a0a;transform:scaleX(0.8039);transform-origin:right center;">70</div>
<div style="position:absolute;left:16.00px;top:317.98px;width:400px;text-align:right;font-size:10px;line-height:10px;font-weight:normal;color:#0a0a0a;white-space:nowrap;letter-spacing:0.5px;-webkit-text-stroke:0.15px #0a0a0a;transform:scaleX(0.8039);transform-origin:right center;">65</div>
<div style="position:absolute;left:16.00px;top:336.19px;width:400px;text-align:right;font-size:10px;line-height:10px;font-weight:normal;color:#0a0a0a;white-space:nowrap;letter-spacing:0.5px;-webkit-text-stroke:0.15px #0a0a0a;transform:scaleX(0.8039);transform-origin:right center;">60</div>
<div style="position:absolute;left:16.00px;top:354.42px;width:400px;text-align:right;font-size:10px;line-height:10px;font-weight:normal;color:#0a0a0a;white-space:nowrap;letter-spacing:0.5px;-webkit-text-stroke:0.15px #0a0a0a;transform:scaleX(0.8039);transform-origin:right center;">55</div>
<div style="position:absolute;left:16.00px;top:372.64px;width:400px;text-align:right;font-size:10px;line-height:10px;font-weight:normal;color:#0a0a0a;white-space:nowrap;letter-spacing:0.5px;-webkit-text-stroke:0.15px #0a0a0a;transform:scaleX(0.8039);transform-origin:right center;">50</div>
<div style="position:absolute;left:16.00px;top:390.86px;width:400px;text-align:right;font-size:10px;line-height:10px;font-weight:normal;color:#0a0a0a;white-space:nowrap;letter-spacing:0.5px;-webkit-text-stroke:0.15px #0a0a0a;transform:scaleX(0.8039);transform-origin:right center;">45</div>
<div style="position:absolute;left:220.00px;top:221.98px;width:400px;text-align:center;font-size:9px;line-height:9px;font-weight:normal;color:#0a0a0a;white-space:nowrap;-webkit-text-stroke:0.15px #0a0a0a;">août-17</div>
<div style="position:absolute;left:283.00px;top:221.98px;width:400px;text-align:center;font-size:9px;line-height:9px;font-weight:normal;color:#0a0a0a;white-space:nowrap;-webkit-text-stroke:0.15px #0a0a0a;">nov.-17</div>
<div style="position:absolute;left:346.20px;top:221.98px;width:400px;text-align:center;font-size:9px;line-height:9px;font-weight:normal;color:#0a0a0a;white-space:nowrap;-webkit-text-stroke:0.15px #0a0a0a;">févr.-18</div>
<div style="position:absolute;left:406.70px;top:221.98px;width:400px;text-align:center;font-size:9px;line-height:9px;font-weight:normal;color:#0a0a0a;white-space:nowrap;-webkit-text-stroke:0.15px #0a0a0a;">mai-18</div>
<div style="position:absolute;left:469.70px;top:221.98px;width:400px;text-align:center;font-size:9px;line-height:9px;font-weight:normal;color:#0a0a0a;white-space:nowrap;-webkit-text-stroke:0.15px #0a0a0a;">août-18</div>
<div style="position:absolute;left:223.80px;top:404.68px;width:400px;text-align:center;font-size:9px;line-height:9px;font-weight:normal;color:#0a0a0a;white-space:nowrap;-webkit-text-stroke:0.15px #0a0a0a;">août-17</div>
<div style="position:absolute;left:286.50px;top:404.68px;width:400px;text-align:center;font-size:9px;line-height:9px;font-weight:normal;color:#0a0a0a;white-space:nowrap;-webkit-text-stroke:0.15px #0a0a0a;">nov.-17</div>
<div style="position:absolute;left:348.50px;top:404.68px;width:400px;text-align:center;font-size:9px;line-height:9px;font-weight:normal;color:#0a0a0a;white-space:nowrap;-webkit-text-stroke:0.15px #0a0a0a;">févr.-18</div>
<div style="position:absolute;left:410.50px;top:404.68px;width:400px;text-align:center;font-size:9px;line-height:9px;font-weight:normal;color:#0a0a0a;white-space:nowrap;-webkit-text-stroke:0.15px #0a0a0a;">mai-18</div>
<div style="position:absolute;left:472.60px;top:404.68px;width:400px;text-align:center;font-size:9px;line-height:9px;font-weight:normal;color:#0a0a0a;white-space:nowrap;-webkit-text-stroke:0.15px #0a0a0a;">août-18</div>
</body></html>
